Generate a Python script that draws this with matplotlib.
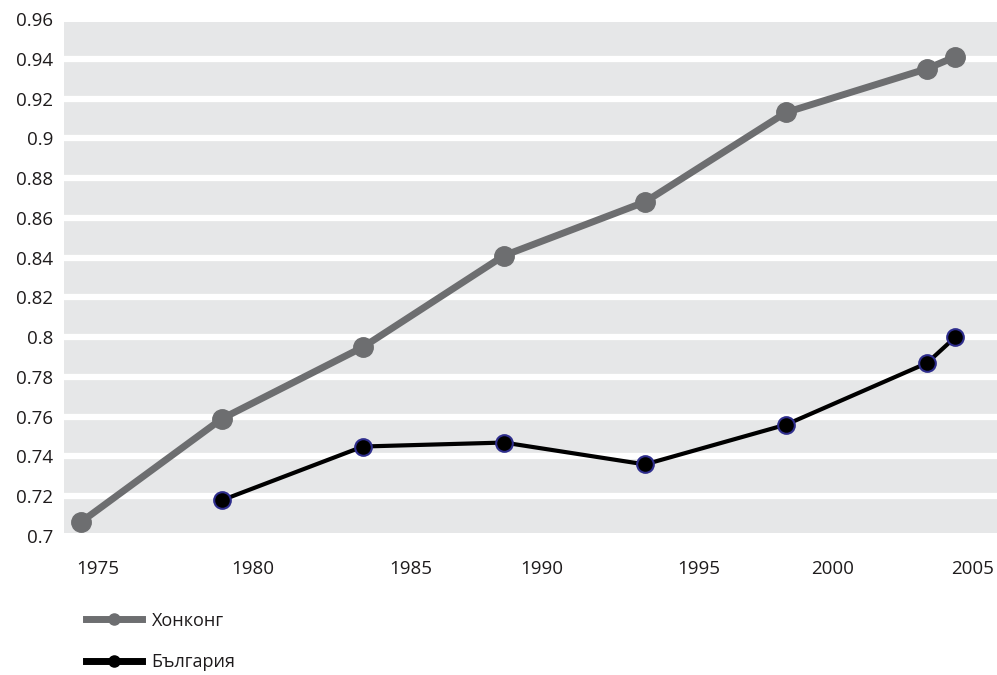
import matplotlib.pyplot as plt
from matplotlib.lines import Line2D
import numpy as np

plt.rcParams['font.family'] = ['Open Sans', 'DejaVu Sans']

# data
years = [1975, 1980, 1985, 1990, 1995, 2000, 2005, 2006]
hongkong = [0.707, 0.759, 0.795, 0.841, 0.868, 0.913, 0.935, 0.941]
bg_years = [1980, 1985, 1990, 1995, 2000, 2005, 2006]
bulgaria = [0.718, 0.745, 0.747, 0.736, 0.756, 0.787, 0.800]

y_ticks = [0.7, 0.72, 0.74, 0.76, 0.78, 0.8, 0.82, 0.84, 0.86, 0.88, 0.9, 0.92, 0.94, 0.96]
y_labels = ['0.7', '0.72', '0.74', '0.76', '0.78', '0.8', '0.82', '0.84', '0.86', '0.88',
            '0.9', '0.92', '0.94', '0.96']
x_labels = ['1975', '1980', '1985', '1990', '1995', '2000', '2005']
# labels in the original sit a little off the data years
x_label_pos = [1975.6, 1981.1, 1986.7, 1991.35, 1996.9, 2001.65, 2006.6]

names = ['Хонконг', 'България']

HK_COL = '#6d6e70'
BAND = '#e6e7e8'
TXT = '#1e1b1c'

fig = plt.figure(figsize=(9.97, 6.75), dpi=100)
ax = fig.add_axes([64 / 997, (675 - 536) / 675, 1 - 64 / 997, (536 - 19) / 675])
ax.set_facecolor('white')
# grey plot band (slightly inside the 0.7 - 0.96 range, as in the original)
ax.axhspan(0.7015, 0.9585, color=BAND, lw=0, zorder=0)

ax.plot(years, hongkong, color=HK_COL, lw=5, marker='o', ms=14,
        mfc=HK_COL, mec=HK_COL, zorder=3, solid_capstyle='round')
ax.plot(bg_years, bulgaria, color='black', lw=3, marker='o', ms=12,
        mfc='black', mec='#2e2d8c', mew=1.5, zorder=4)

ax.set_xlim(1974.4, 2007.48)
ax.set_ylim(0.7, 0.96)
ax.set_yticks(y_ticks)
ax.set_yticklabels(y_labels)
ax.set_xticks(x_label_pos)
ax.set_xticklabels(x_labels)
ax.tick_params(length=0, labelsize=13.5, colors=TXT)
ax.tick_params(axis='y', pad=8)
ax.tick_params(axis='x', pad=17)

for y in y_ticks[1:-1]:
    ax.axhline(y, color='white', lw=4.5, zorder=1)

for s in ax.spines.values():
    s.set_visible(False)

handles = [
    Line2D([], [], color=HK_COL, lw=5, marker='o', ms=8, mfc=HK_COL, mec=HK_COL),
    Line2D([], [], color='black', lw=5, marker='o', ms=8, mfc='black', mec='black'),
]
leg = fig.legend(handles, names, loc='upper left', bbox_to_anchor=(73 / 997, 1 - 599 / 675),
                 frameon=False, fontsize=13, handlelength=3.1, handletextpad=0.55,
                 labelspacing=1.3, borderaxespad=0.3)
for t in leg.get_texts():
    t.set_color(TXT)

fig.savefig('out.png', dpi=100)
